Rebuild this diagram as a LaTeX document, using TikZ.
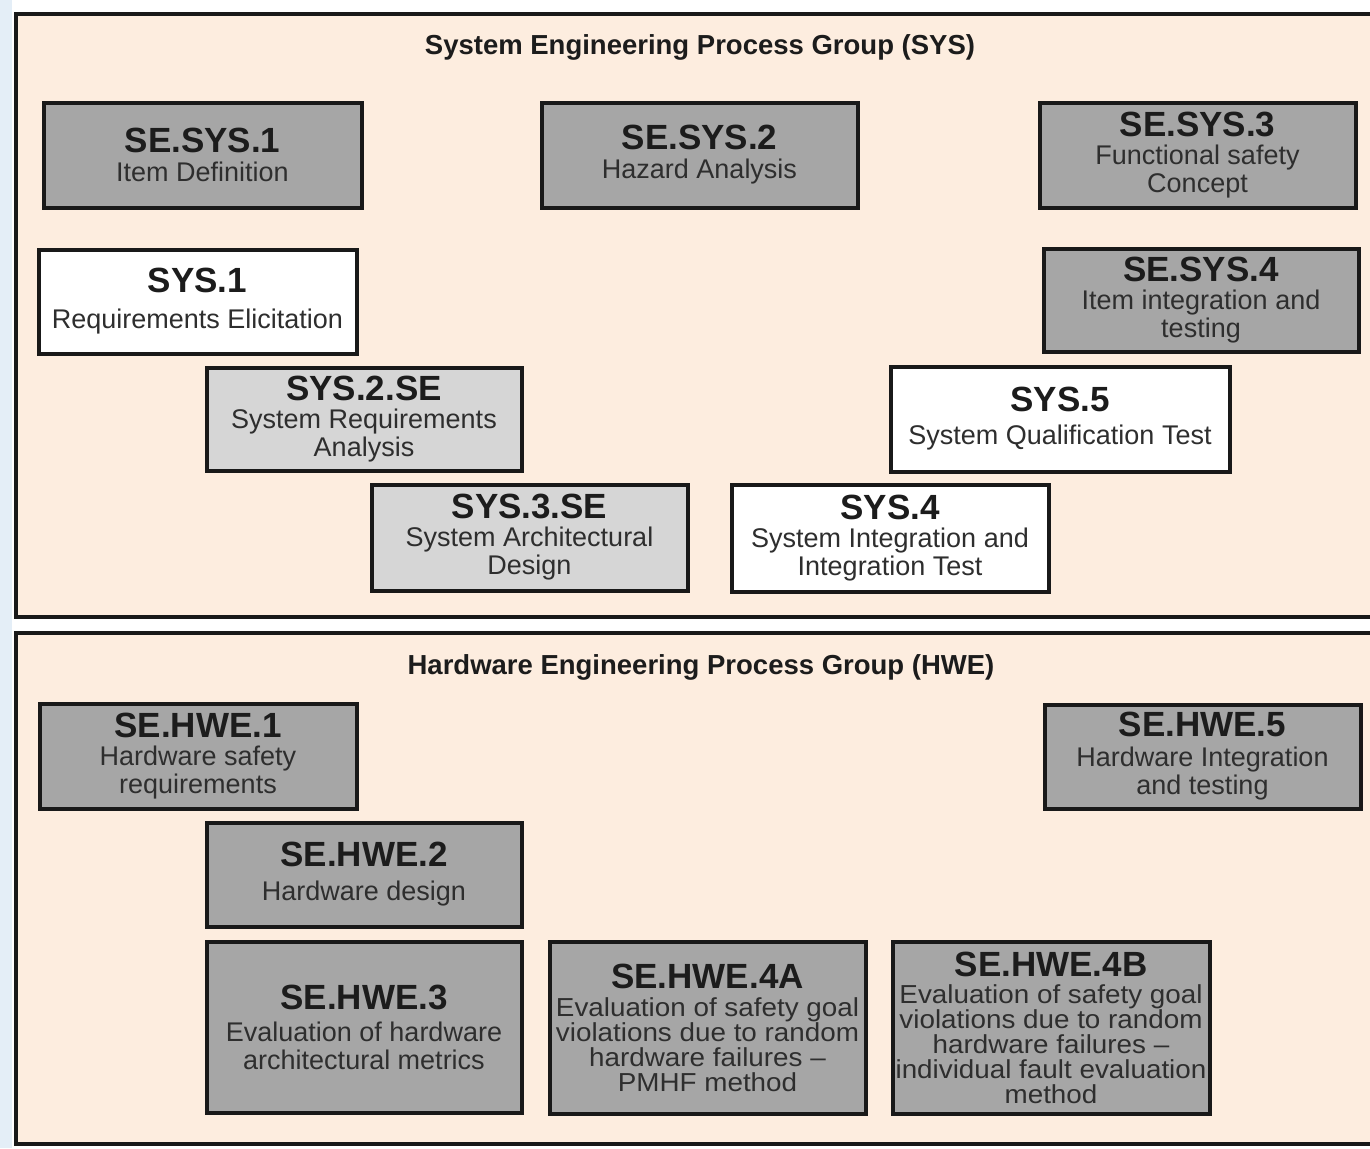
\documentclass[tikz,border=0pt]{standalone}
\usepackage{fontspec}
\setmainfont{Liberation Sans}
\newfontfamily\widesans[FakeStretch=1.07,Ligatures=TeX]{Liberation Sans}
\definecolor{peach}{HTML}{FDEDDF}
\definecolor{darkbox}{HTML}{A6A6A6}
\definecolor{lightbox}{HTML}{D6D6D6}
\definecolor{leftstrip}{HTML}{E4EEF7}
\definecolor{ink}{HTML}{1C1C1C}
\definecolor{subink}{HTML}{2E2E2E}
\newcommand\boxtitle{\rmfamily\fontsize{35}{36}\selectfont\bfseries\color{ink}}
\newcommand\boxsub{\fontsize{27}{28}\selectfont\color{subink}}
\newcommand\boxsubsmall{\widesans\fontsize{26}{25}\selectfont\color{subink}}
\newcommand\grouptitle{\fontsize{27.5}{30}\selectfont\bfseries\color{ink}}
\begin{document}
\begin{tikzpicture}[x=1pt,y=-1pt,
  procbox/.style={draw=black!90, line width=4pt, inner sep=0pt, align=center,
    font=\boxsub},
  darkproc/.style={procbox, fill=darkbox},
  lightproc/.style={procbox, fill=lightbox},
  whiteproc/.style={procbox, fill=white},
  frame/.style={draw=black!90, line width=4pt, fill=peach},
  grouplabel/.style={inner sep=0pt, font=\grouptitle}
]
\clip (0,0) rectangle (1370,1148);
\fill[white] (0,0) rectangle (1370,1148);
\fill[leftstrip] (0,0) rectangle (12,1148);
% group frames
\path[frame] (16,14) rectangle (1390,617);
\path[frame] (16,633) rectangle (1390,1144);
\node[grouplabel] (systitle) at (700,47) {System Engineering Process Group (SYS)};
\node[grouplabel] (hwetitle) at (701,667) {Hardware Engineering Process Group (HWE)};
% SYS group
\node[darkproc, minimum width=318pt, minimum height=105pt] (ses1) at (202.5,155)
  {{\boxtitle SE.SYS.1}\\[1pt]Item Definition};
\node[darkproc, minimum width=316pt, minimum height=105pt] (ses2) at (699.5,155)
  {{\boxtitle SE.SYS.2}\\[1pt]Hazard Analysis};
\node[darkproc, minimum width=316pt, minimum height=105pt] (ses3) at (1197.5,155)
  {{\boxtitle SE.SYS.3}\\Functional safety\\Concept};
\node[whiteproc, minimum width=318pt, minimum height=104pt] (sys1) at (197.5,301.5)
  {{\boxtitle SYS.1}\\[8pt]Requirements Elicitation};
\node[darkproc, minimum width=315pt, minimum height=103pt] (ses4) at (1201,300)
  {{\boxtitle SE.SYS.4}\\Item integration and\\testing};
\node[lightproc, minimum width=315pt, minimum height=103pt] (sys2) at (364,419)
  {{\boxtitle SYS.2.SE}\\System Requirements\\Analysis};
\node[whiteproc, minimum width=339pt, minimum height=105pt] (sys5) at (1060,419)
  {{\boxtitle SYS.5}\\[5pt]System Qualification Test};
\node[lightproc, minimum width=316pt, minimum height=106pt] (sys3) at (529.5,537.5)
  {{\boxtitle SYS.3.SE}\\System Architectural\\Design};
\node[whiteproc, minimum width=317pt, minimum height=107pt] (sys4) at (890,538)
  {{\boxtitle SYS.4}\\System Integration and\\Integration Test};
% HWE group
\node[darkproc, minimum width=317pt, minimum height=105pt] (hw1) at (198,756)
  {{\boxtitle SE.HWE.1}\\Hardware safety\\requirements};
\node[darkproc, minimum width=316pt, minimum height=104pt] (hw5) at (1202.5,756.5)
  {{\boxtitle SE.HWE.5}\\[2pt]Hardware Integration\\and testing};
\node[darkproc, minimum width=315pt, minimum height=104pt] (hw2) at (364,874.5)
  {{\boxtitle SE.HWE.2}\\[6pt]Hardware design};
\node[darkproc, minimum width=315pt, minimum height=171pt] (hw3) at (364,1027)
  {{\boxtitle SE.HWE.3}\\[4pt]Evaluation of hardware\\architectural metrics};
\node[darkproc, minimum width=316pt, minimum height=172pt, font=\boxsubsmall] (hw4a) at (707.5,1027.5)
  {{\boxtitle SE.HWE.4A}\\[3pt]Evaluation of safety goal\\violations due to random\\hardware failures –\\PMHF method};
\node[darkproc, minimum width=317pt, minimum height=172pt, font=\boxsubsmall] (hw4b) at (1051,1027.5)
  {{\boxtitle SE.HWE.4B}\\[2pt]Evaluation of safety goal\\violations due to random\\hardware failures –\\individual fault evaluation\\method};
\end{tikzpicture}
\end{document}
